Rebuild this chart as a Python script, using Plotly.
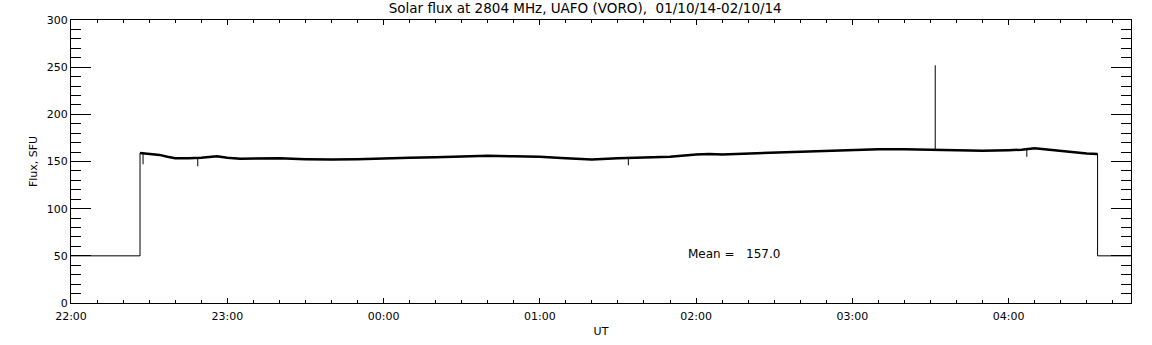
import plotly.graph_objects as go

# ---------------- data ----------------
range_start = "22:00"
range_end = "04:47"
off_air_level = 50
on_time = "22:26:30"
off_time = "04:34:10"

plateau_times = ["22:26:30", "22:28", "22:31", "22:34", "22:37", "22:40", "22:45", "22:50",
                 "22:56", "23:00", "23:05", "23:10", "23:20", "23:30", "23:40", "23:50",
                 "00:00", "00:10", "00:20", "00:30", "00:40", "00:50", "01:00", "01:10",
                 "01:20", "01:30", "01:40", "01:50", "02:00", "02:05", "02:10", "02:20",
                 "02:30", "02:40", "02:50", "03:00", "03:10", "03:20", "03:30", "03:40",
                 "03:50", "04:00", "04:05", "04:10", "04:15", "04:20", "04:25", "04:30",
                 "04:34:10"]
plateau_flux = [159, 158.5, 158, 157, 155, 153.5, 153.5, 154,
                155.5, 154, 153, 153, 153.5, 152.5, 152, 152.5,
                153.5, 154, 154.5, 155.5, 156, 155.5, 155, 153.5,
                152, 153.5, 154.5, 155, 157.5, 158, 157.5, 158.5,
                159.5, 160.5, 161.5, 162.5, 163, 163, 162.5, 162,
                161.5, 162, 162.5, 164, 162.5, 161.5, 160, 158.5,
                158]

event_times = ["22:27:40", "22:48:40", "01:34", "03:31:50", "04:07"]
event_base = [158.5, 153.5, 153.5, 162.5, 163]
event_peak = [147, 145, 146, 252, 155]

mean_label = "Mean =   157.0"
mean_pos_time = "01:56"
mean_pos_flux = 52

title_text = "Solar flux at 2804 MHz, UAFO (VORO),  01/10/14-02/10/14"


def ts(hhmm):
    parts = hhmm.split(":")
    h = int(parts[0])
    day = "2014-10-01" if h >= 12 else "2014-10-02"
    if len(parts) == 2:
        hhmm = hhmm + ":00"
    return f"{day} {hhmm}"


# full trace: off-air level, step up, plateau, step down, off-air level
full_x = [ts(range_start), ts(on_time)] + [ts(t) for t in plateau_times] + [ts(off_time), ts(range_end)]
full_y = [off_air_level, off_air_level] + plateau_flux + [off_air_level, off_air_level]

ev_x, ev_y = [], []
for t, b, p in zip(event_times, event_base, event_peak):
    ev_x += [ts(t), ts(t), None]
    ev_y += [b, p, None]

fig = go.Figure()
fig.add_trace(go.Scatter(x=full_x, y=full_y, mode="lines",
                         line=dict(color="black", width=1), hoverinfo="skip"))
fig.add_trace(go.Scatter(x=[ts(t) for t in plateau_times], y=plateau_flux, mode="lines",
                         line=dict(color="black", width=2.5), hoverinfo="skip"))
fig.add_trace(go.Scatter(x=ev_x, y=ev_y, mode="lines",
                         line=dict(color="black", width=1), hoverinfo="skip"))

fig.add_annotation(x=ts(mean_pos_time), y=mean_pos_flux, text=mean_label, showarrow=False,
                   xanchor="left", yanchor="middle", font=dict(size=12, color="black"))

font_family = "DejaVu Sans"
fig.update_layout(
    width=1152, height=345,
    margin=dict(l=71, r=21, t=20, b=42, autoexpand=False),
    paper_bgcolor="white", plot_bgcolor="white",
    showlegend=False,
    font=dict(family=font_family, size=11, color="black"),
    title=dict(text=title_text, x=0.508, xanchor="center", y=0.975, yanchor="middle",
               font=dict(size=13.5, color="black"), automargin=False),
    xaxis=dict(
        type="date",
        range=[ts(range_start), ts(range_end)],
        tickformat="%H:%M",
        dtick=3600000,
        tick0=ts("22:00"),
        ticks="inside", ticklen=5, tickwidth=1, tickcolor="black",
        minor=dict(dtick=600000, ticks="inside", ticklen=3, tickwidth=1, tickcolor="black"),
        showgrid=False, zeroline=False,
        showline=True, linecolor="black", linewidth=1, mirror="allticks",
        ticklabelstandoff=3,
        title=dict(text="UT", font=dict(size=11), standoff=5),
        tickfont=dict(size=11),
        automargin=False,
    ),
    yaxis=dict(
        range=[0, 300],
        dtick=50, tick0=0,
        ticks="inside", ticklen=20, tickwidth=1, tickcolor="black",
        minor=dict(dtick=10, ticks="inside", ticklen=10, tickwidth=1, tickcolor="black"),
        showgrid=False, zeroline=False,
        showline=True, linecolor="black", linewidth=1, mirror="allticks",
        title=dict(text="Flux, SFU", font=dict(size=11), standoff=6),
        tickfont=dict(size=11),
        automargin=False,
    ),
)

fig.write_html("out.html", config={"displayModeBar": False},
               post_script="document.body.style.margin='0';")
